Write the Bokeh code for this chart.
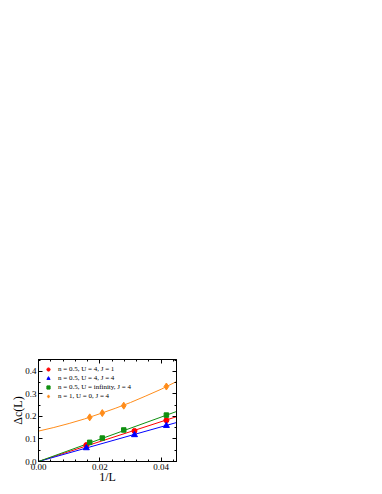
from bokeh.plotting import figure
from bokeh.models import (LinearAxis, Legend, LegendItem, Range1d, FixedTicker,
                          NumeralTickFormatter, CustomJSTickFormatter)
from bokeh.embed import file_html
from bokeh.resources import INLINE

# ---- data ----
x_a = [0.0156, 0.0313, 0.0417]            # 1/L for series A and B
red_y = [0.073, 0.136, 0.183]            # n=0.5, U=4, J=1
blue_y = [0.060, 0.118, 0.159]           # n=0.5, U=4, J=4
x_b = [0.0167, 0.0208, 0.0278, 0.0417]   # 1/L for series C and D
green_y = [0.085, 0.104, 0.140, 0.206]   # n=0.5, U=infinity, J=4
orange_y = [0.196, 0.215, 0.248, 0.333]  # n=1, U=0, J=4

line_x = [0.0, 0.045]
red_fit = [0.0, 0.199]
blue_fit = [0.0, 0.173]
green_fit = [0.0, 0.222]
fit_x = [0.0, 0.005, 0.01, 0.015, 0.02, 0.025, 0.03, 0.035, 0.04, 0.045]
orange_fit = [0.135, 0.151, 0.169, 0.189, 0.212, 0.236, 0.262, 0.291, 0.321, 0.355]

labels = ["n = 0.5, U = 4, J = 1", "n = 0.5, U = 4, J = 4",
          "n = 0.5, U = infinity, J = 4", "n = 1, U = 0, J = 4"]
x_ticks = [0.0, 0.02, 0.04]
y_ticks = [0.0, 0.1, 0.2, 0.3, 0.4]

RED, BLUE, GREEN, ORANGE = "#ff0000", "#0000ff", "#109010", "#ff8c1a"
FONT = "Liberation Serif"

p = figure(frame_width=138, frame_height=102, output_backend="svg", toolbar_location=None,
           x_range=Range1d(0, 0.045), y_range=Range1d(0, 0.453),
           min_border_left=38, min_border_top=359, min_border_bottom=18, min_border_right=6,
           x_axis_label="1/L", y_axis_label="Δc(L)")
p.xgrid.visible = False
p.ygrid.visible = False
p.outline_line_color = "black"
p.background_fill_color = "white"
p.border_fill_color = "white"

# fit lines
p.line(line_x, red_fit, color=RED, line_width=1)
p.line(line_x, blue_fit, color=BLUE, line_width=1)
p.line(line_x, green_fit, color=GREEN, line_width=1)
p.line(fit_x, orange_fit, color=ORANGE, line_width=1)

r1 = p.scatter(x_a, red_y, marker="circle", size=5, color=RED)
r2 = p.scatter(x_a, blue_y, marker="triangle", size=6, color=BLUE)
r3 = p.scatter(x_b, green_y, marker="square", size=4.5, color=GREEN)
r4 = p.scatter(x_b, orange_y, marker="diamond", size=7, color=ORANGE)

def style(ax, show_labels=True):
    ax.axis_line_color = "black"
    ax.major_tick_in = 4
    ax.major_tick_out = 0
    ax.minor_tick_in = 2
    ax.minor_tick_out = 0
    ax.major_tick_line_color = "black"
    ax.minor_tick_line_color = "black"
    ax.major_label_text_font = FONT
    ax.major_label_text_font_size = "9px"
    ax.major_label_text_color = "black"
    ax.major_label_standoff = 2 if show_labels else 0
    ax.axis_label_text_font = FONT
    ax.axis_label_text_font_size = "12px"
    ax.axis_label_text_font_style = "normal"
    ax.axis_label_text_color = "black"
    ax.axis_label_standoff = -3

xt = FixedTicker(ticks=x_ticks, minor_ticks=[i * 0.004 for i in range(12)])
yt = FixedTicker(ticks=y_ticks, minor_ticks=[i * 0.05 for i in range(10)])

for ax in p.xaxis:
    ax.ticker = xt
    ax.formatter = NumeralTickFormatter(format="0.00")
    style(ax)
for ax in p.yaxis:
    ax.ticker = yt
    ax.formatter = NumeralTickFormatter(format="0.0")
    style(ax)

blank = CustomJSTickFormatter(code="return '';")
top = LinearAxis(ticker=xt, formatter=blank)
style(top, False)
p.add_layout(top, "above")
right = LinearAxis(ticker=yt, formatter=blank)
style(right, False)
p.add_layout(right, "right")

legend = Legend(items=[LegendItem(label=labels[0], renderers=[r1]),
                       LegendItem(label=labels[1], renderers=[r2]),
                       LegendItem(label=labels[2], renderers=[r3]),
                       LegendItem(label=labels[3], renderers=[r4])],
                location=(6, 61), margin=0, padding=0, spacing=1,
                glyph_width=8, glyph_height=8, label_height=8, label_standoff=6,
                label_text_font=FONT, label_text_font_size="7px",
                label_text_color="black", label_text_baseline="middle",
                background_fill_alpha=0, border_line_alpha=0)
p.add_layout(legend, "center")

open("out.html", "w").write(file_html(p, INLINE))
